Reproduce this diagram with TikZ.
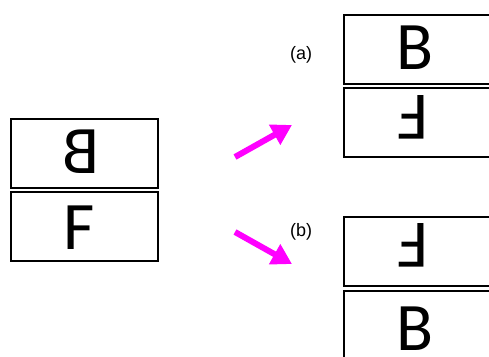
\documentclass[tikz,border=0pt]{standalone}
\usepackage{fontspec}
\usepackage{graphicx}
\setmainfont{Carlito}
\newfontfamily\labfont{Liberation Sans}
\usetikzlibrary{arrows.meta}
\definecolor{arrmag}{RGB}{255,0,255}
\tikzset{
  box/.style={draw=black, line width=2pt, minimum width=147pt, minimum height=69pt, inner sep=0pt},
  letter/.style={inner sep=0pt, font=\fontsize{68}{68}\selectfont},
  lab/.style={inner sep=0pt, font=\labfont\fontsize{18}{18}\selectfont},
  arr/.style={draw=arrmag, line width=6pt, -{Triangle[length=20pt,width=22pt]}}
}
\begin{document}
\begin{tikzpicture}[x=1pt,y=-1pt]
\path[use as bounding box, clip] (0,0) rectangle (489,356);
% left stack
\node[box] (lt) at (84.25,153) {};
\node[box] (lb) at (84.25,226.5) {};
\node[letter] (lB) at (81,152) {\scalebox{-1}[1]{B}};
\node[letter] (lF) at (79.5,227.5) {F};
% (a) stack
\node[box] (at) at (417.5,49.5) {};
\node[box] (ab) at (417.5,122.75) {};
\node[letter] (aB) at (415,47.5) {B};
\node[letter] (aF) at (413,117.5) {\rotatebox[origin=c]{180}{F}};
% (b) stack
\node[box] (bt) at (417.5,251.75) {};
\node[box] (bb) at (417.5,325.5) {};
\node[letter] (bF) at (413,245.8) {\rotatebox[origin=c]{180}{F}};
\node[letter] (bB) at (415,328.5) {B};
% labels
\node[lab] (la) at (301,55) {(a)};
\node[lab] (lbb) at (301,232) {(b)};
% arrows
\coordinate (a1) at (235,157);
\coordinate (a2) at (292,125);
\coordinate (b1) at (235,232);
\coordinate (b2) at (292,264);
\draw[arr] (a1) -- (a2);
\draw[arr] (b1) -- (b2);
\end{tikzpicture}
\end{document}
